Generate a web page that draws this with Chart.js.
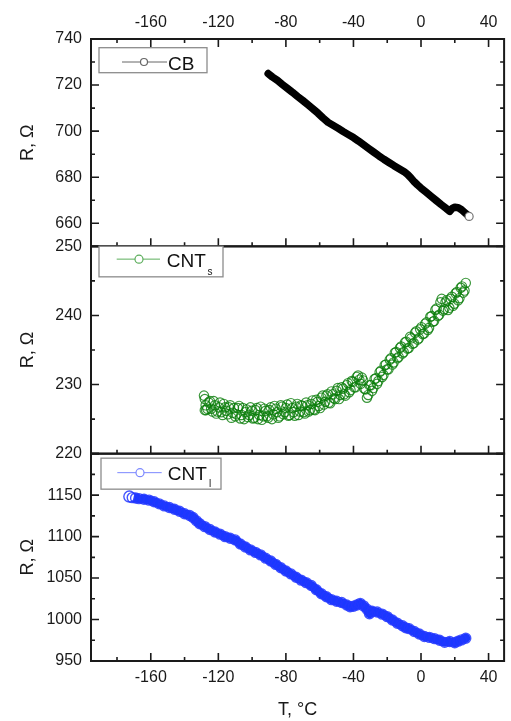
<!DOCTYPE html>
<html>
<head>
<meta charset="utf-8">
<script src="https://cdn.jsdelivr.net/npm/chart.js@4.4.0/dist/chart.umd.min.js"></script>
<style>
  html, body { margin: 0; padding: 0; background: #fff; }
  #chart { display: block; }
</style>
</head>
<body>
<canvas id="chart" width="511" height="721"></canvas>
<script>
// temperature axis (°C)
const tTicks = [-160, -120, -80, -40, 0, 40];
const tMin = -195.4, tMax = 49.2;

// CB
const cbT = [-90.5, -88, -85, -82, -79, -76, -73, -70, -67, -64, -61, -58, -55, -52, -49, -46, -43, -40, -37, -34,
  -31, -28, -25, -22, -19, -16, -13, -10, -8, -6, -4, -2, 0, 3, 6, 9, 12, 15, 17, 18.5, 20, 22, 24, 26, 28.5];
const cbR = [725.0, 723.5, 722.0, 720.2, 718.5, 716.8, 715.0, 713.3, 711.5, 709.7, 707.8, 705.7, 703.8, 702.5, 701.2,
  699.8, 698.5, 697.2, 695.7, 694.1, 692.5, 690.9, 689.3, 687.8, 686.4, 685.0, 683.7, 682.4, 681.2, 679.7, 678.0,
  676.6, 675.3, 673.5, 671.7, 669.9, 668.1, 666.4, 665.2, 666.5, 667.0, 666.8, 665.9, 664.6, 663.0];
const cbTicks = [660, 680, 700, 720, 740];

// CNTs (scatter, two interleaved sweeps)
const cntsT = [-128.5, -128, -127.5, -128, -126.5, -125, -123.5, -122, -120.5, -119, -117.5, -116, -114.5, -113, -111.5,
  -110, -108.5, -107, -105.5, -104, -102.5, -101, -99.5, -98, -96.5, -95, -93.5, -92, -90.5, -89, -87.5, -86, -84.5,
  -83, -81.5, -80, -78.5, -77, -75.5, -74, -72.5, -71, -69.5, -68, -66.5, -65, -63.5, -62, -60.5, -59, -57.5, -56,
  -54.5, -53, -51.5, -50, -48.5, -47, -45.5, -44, -42.5, -41, -39.5, -38, -36.5, -35, -33.5, -32, -30.5, -29, -27.5,
  -26, -24.5, -23, -21.5, -20, -18.5, -17, -15.5, -14, -12.5, -11, -9.5, -8, -6.5, -5, -3.5, -2, -0.5, 1, 2.5, 4,
  5.5, 7, 8.5, 10, 11.5, 13, 14.5, 16, 17.5, 19, 20.5, 22, 23.5, 25, 26.5,
  -127.25, -125.75, -124.25, -122.75, -121.25, -119.75, -118.25, -116.75, -115.25, -113.75, -112.25, -110.75, -109.25,
  -107.75, -106.25, -104.75, -103.25, -101.75, -100.25, -98.75, -97.25, -95.75, -94.25, -92.75, -91.25, -89.75,
  -88.25, -86.75, -85.25, -83.75, -82.25, -80.75, -79.25, -77.75, -76.25, -74.75, -73.25, -71.75, -70.25, -68.75,
  -67.25, -65.75, -64.25, -62.75, -61.25, -59.75, -58.25, -56.75, -55.25, -53.75, -52.25, -50.75, -49.25, -47.75,
  -46.25, -44.75, -43.25, -41.75, -40.25, -38.75, -37.25, -35.75, -34.25, -32.75, -31.25, -29.75, -28.25, -26.75,
  -25.25, -23.75, -22.25, -20.75, -19.25, -17.75, -16.25, -14.75, -13.25, -11.75, -10.25, -8.75, -7.25, -5.75, -4.25,
  -2.75, -1.25, 0.25, 1.75, 3.25, 4.75, 6.25, 7.75, 9.25, 10.75, 12.25, 13.75, 15.25, 16.75, 18.25, 19.75, 21.25,
  22.75, 24.25, 25.75];
const cntsR = [228.4, 226.3, 227.0, 227.9, 226.5, 227.6, 226.1, 227.0, 226.1, 227.4, 225.6, 226.7, 225.7, 227.0, 225.9,
  225.4, 226.6, 225.1, 226.6, 226.0, 225.3, 226.7, 225.1, 226.3, 225.0, 226.8, 225.4, 226.2, 225.2, 226.7, 225.7,
  226.5, 225.2, 227.0, 225.7, 226.6, 225.5, 227.3, 226.0, 226.8, 225.6, 227.0, 226.0, 227.4, 226.1, 227.2, 226.4,
  227.8, 226.9, 228.1, 227.1, 228.4, 227.4, 229.0, 228.0, 229.1, 227.9, 229.6, 228.6, 229.9, 228.9, 230.5, 229.6,
  231.1, 230.7, 231.0, 229.4, 228.1, 229.9, 229.1, 230.8, 230.1, 231.8, 231.1, 232.8, 232.2, 233.6, 232.9, 234.6,
  233.8, 235.3, 234.5, 236.1, 235.2, 236.9, 235.9, 237.5, 236.5, 238.0, 237.3, 238.8, 237.9, 239.8, 239.1, 240.8,
  239.9, 241.9, 240.7, 241.9, 240.8, 242.4, 241.4, 243.2, 242.2, 244.0, 243.3, 244.7,
  226.3, 227.4, 226.5, 227.6, 225.8, 226.7, 226.0, 227.2, 226.2, 226.7, 225.2, 226.6, 225.7, 226.9, 225.6, 225.0,
  226.4, 225.6, 226.2, 225.2, 226.6, 225.6, 224.9, 226.5, 225.4, 226.3, 225.0, 226.9, 226.0, 225.4, 226.8, 226.0,
  227.1, 225.6, 226.6, 225.5, 227.2, 226.1, 226.9, 225.8, 227.0, 226.3, 227.7, 226.3, 227.5, 226.6, 228.4, 227.5,
  228.6, 227.3, 228.6, 227.9, 229.5, 228.5, 229.4, 228.4, 230.2, 229.2, 230.4, 229.6, 231.3, 230.1, 230.6, 229.3,
  228.5, 229.9, 229.5, 230.9, 230.5, 232.0, 231.4, 232.9, 232.2, 233.8, 233.2, 234.7, 234.0, 235.5, 234.7, 236.2,
  235.3, 236.7, 236.0, 237.7, 236.7, 238.3, 237.4, 239.0, 238.2, 239.9, 239.2, 241.0, 240.1, 242.4, 240.9, 242.2,
  241.1, 242.7, 241.7, 243.4, 242.5, 244.2, 243.6];
const cntsTicks = [220, 230, 240, 250];

// CNTl
const cntlT = [-172.7, -171, -169, -167, -164, -161, -158, -155, -152, -149, -146, -143, -140, -137, -135, -133, -131,
  -128, -125, -122, -119, -116, -113, -110, -107, -104, -101, -98, -95, -92, -89, -86, -83, -80, -77, -74, -71, -68,
  -65, -62, -59, -56, -53, -50, -47, -44, -42, -40, -38, -36, -34, -32, -30.5, -29, -26, -23, -20, -17, -14, -11, -9,
  -7, -4, -1, 2, 5, 8, 11, 14, 17, 20, 22, 24, 26.5];
const cntlR = [1148.3, 1147.0, 1146.6, 1145.8, 1145.0, 1144.0, 1142.0, 1139.5, 1137.0, 1135.0, 1133.0, 1130.5, 1127.5,
  1125.5, 1123.0, 1119.0, 1115.5, 1112.0, 1108.5, 1105.5, 1103.0, 1100.0, 1098.0, 1096.0, 1091.0, 1087.5, 1084.0,
  1081.0, 1078.0, 1074.0, 1070.5, 1066.5, 1062.5, 1058.5, 1055.0, 1051.0, 1047.5, 1044.5, 1041.0, 1036.0, 1031.0,
  1027.5, 1024.0, 1022.0, 1020.5, 1017.5, 1015.5, 1016.0, 1017.5, 1019.5, 1016.5, 1012.5, 1007.0, 1010.0, 1009.0,
  1006.5, 1003.5, 999.5, 995.5, 992.5, 990.0, 989.0, 985.5, 982.5, 979.5, 978.5, 977.0, 975.0, 972.5, 973.5, 972.0,
  974.0, 975.5, 977.5];
const cntlTicks = [950, 1000, 1050, 1100, 1150];

const family = '"Liberation Sans", Arial, Helvetica, sans-serif';
const ink = '#1a1a1a';

function pts(xs, ys) {
  return xs.map((x, i) => ({ x: x, y: ys[i] }));
}

// panels from top to bottom, with their legend layout
const panels = [
  { axis: 'yTop', min: 650, max: 740, ticks: cbTicks, minor: 10,
    legend: { dx: 8, dy: 8.7, w: 108, h: 25, ly: 23, l1: 31, l2: 76, cx: 53, r: 3.5, color: '#666',
      text: 'CB', tx: 77, ty: 30.5, sub: null } },
  { axis: 'yMid', min: 220, max: 250, ticks: cntsTicks, minor: 5,
    legend: { dx: 8, dy: 0, w: 124, h: 30.5, ly: 12.8, l1: 25.7, l2: 69, cx: 48, r: 4, color: '#5cae5c',
      text: 'CNT', tx: 75.7, ty: 20.5, sub: 's', sx: 116.5, sy: 28.5 } },
  { axis: 'yBot', min: 950, max: 1200, ticks: cntlTicks, minor: 25,
    legend: { dx: 10, dy: 4.5, w: 120, h: 31, ly: 19, l1: 26.3, l2: 70.7, cx: 49, r: 4, color: '#7c88ff',
      text: 'CNT', tx: 76.7, ty: 26.5, sub: 'l', sx: 118, sy: 33.5 } }
];

const frames = {
  id: 'frames',
  afterDraw(chart) {
    const { ctx, chartArea: a, scales } = chart;
    const sx = scales.x;
    const tMinor = [];
    for (let i = 0; i < tTicks.length; i++) tMinor.push(tTicks[i] - 20);
    tMinor.push(tTicks[tTicks.length - 1] + 20);
    ctx.save();
    ctx.strokeStyle = ink;
    panels.forEach((p, k) => {
      const s = scales[p.axis];
      ctx.lineWidth = 1.6;
      ctx.beginPath();
      // y ticks, inward on both sides
      const yMajor = p.ticks.slice();
      yMajor.unshift(p.ticks[0] - (p.ticks[1] - p.ticks[0]));
      yMajor.push(p.ticks[p.ticks.length - 1] + (p.ticks[1] - p.ticks[0]));
      yMajor.forEach(v => {
        if (v < p.min || v > p.max) return;
        const y = s.getPixelForValue(v);
        ctx.moveTo(a.left, y); ctx.lineTo(a.left + 8, y);
        ctx.moveTo(a.right, y); ctx.lineTo(a.right - 8, y);
        const m = v + p.minor;
        if (m < p.max) {
          const ym = s.getPixelForValue(m);
          ctx.moveTo(a.left, ym); ctx.lineTo(a.left + 4, ym);
          ctx.moveTo(a.right, ym); ctx.lineTo(a.right - 4, ym);
        }
      });
      // x ticks at the bottom of each panel, and at the very top
      const edges = [[s.bottom, -1]];
      if (k === 0) edges.push([s.top, 1]);
      edges.forEach(([y0, dir]) => {
        tTicks.forEach(v => {
          const x = sx.getPixelForValue(v);
          ctx.moveTo(x, y0); ctx.lineTo(x, y0 + dir * 8);
        });
        tMinor.forEach(v => {
          if (v <= tMin || v >= tMax) return;
          const x = sx.getPixelForValue(v);
          ctx.moveTo(x, y0); ctx.lineTo(x, y0 + dir * 4);
        });
      });
      ctx.stroke();
      ctx.lineWidth = 2;
      ctx.strokeRect(a.left, s.top, a.right - a.left, s.bottom - s.top);

      // legend box
      const L = p.legend;
      const bx = a.left + L.dx, by = s.top + L.dy;
      ctx.fillStyle = '#fff';
      ctx.fillRect(bx, by, L.w, L.h);
      ctx.lineWidth = 1.3;
      ctx.strokeStyle = '#8c8c8c';
      ctx.strokeRect(bx, by, L.w, L.h);
      ctx.strokeStyle = L.color;
      ctx.lineWidth = 1;
      ctx.beginPath();
      ctx.moveTo(a.left + L.l1, s.top + L.ly);
      ctx.lineTo(a.left + L.l2, s.top + L.ly);
      ctx.stroke();
      ctx.beginPath();
      ctx.arc(a.left + L.cx, s.top + L.ly, L.r, 0, Math.PI * 2);
      ctx.fill();
      ctx.lineWidth = 1.2;
      ctx.stroke();
      ctx.fillStyle = '#111';
      ctx.textBaseline = 'alphabetic';
      ctx.textAlign = 'left';
      ctx.font = '19px ' + family;
      ctx.fillText(L.text, a.left + L.tx, s.top + L.ty);
      if (L.sub) {
        ctx.font = '10px ' + family;
        ctx.fillText(L.sub, a.left + L.sx, s.top + L.sy);
      }
      ctx.strokeStyle = ink;
    });
    ctx.restore();
  }
};

function tAxis(pos, h) {
  return {
    type: 'linear', position: pos, min: tMin, max: tMax,
    afterBuildTicks: s => { s.ticks = tTicks.map(v => ({ value: v })); },
    afterFit: s => { s.height = h; },
    grid: { display: false, drawTicks: false },
    border: { display: false },
    ticks: { color: ink, font: { size: 16, family: family }, padding: 7, maxRotation: 0, autoSkip: false,
      callback: v => String(v) }
  };
}

function rAxis(p) {
  return {
    type: 'linear', position: 'left', stack: 'r', stackWeight: 1, min: p.min, max: p.max,
    afterBuildTicks: s => { s.ticks = p.ticks.map(v => ({ value: v })); },
    afterFit: s => { s.width = 91; },
    grid: { display: false, drawTicks: false },
    border: { display: false },
    ticks: { color: ink, font: { size: 16, family: family }, padding: 9, autoSkip: false,
      callback: v => String(v) },
    title: { display: true, text: 'R, Ω', color: ink, font: { size: 18, family: family }, padding: { top: 17, bottom: 0 } }
  };
}

const xBottom = tAxis('bottom', 60);
xBottom.title = { display: true, text: 'T, °C', color: ink, font: { size: 18, family: family }, padding: { top: 0, bottom: 0 } };

const ctx = document.getElementById('chart').getContext('2d');
new Chart(ctx, {
  type: 'line',
  data: {
    datasets: [
      {
        label: 'CB', data: pts(cbT, cbR), xAxisID: 'x', yAxisID: 'yTop',
        borderColor: '#000', borderWidth: 7.5, borderCapStyle: 'round', borderJoinStyle: 'round',
        pointRadius: c => c.dataIndex === cbT.length - 1 ? 4 : 0,
        pointBackgroundColor: '#fff', pointBorderColor: '#777', pointBorderWidth: 1.2
      },
      {
        label: 'CNTs', data: pts(cntsT, cntsR), xAxisID: 'x', yAxisID: 'yMid',
        showLine: false,
        pointRadius: 4.7, pointBorderWidth: 1.15, pointBorderColor: 'rgba(10,125,10,0.8)',
        pointBackgroundColor: 'rgba(0,0,0,0)'
      },
      {
        label: 'CNTl', data: pts(cntlT, cntlR), xAxisID: 'x', yAxisID: 'yBot',
        borderColor: '#1a38ff', borderWidth: 9, borderCapStyle: 'round', borderJoinStyle: 'round',
        pointRadius: c => c.dataIndex === 0 ? 5.5 : 5, pointBorderWidth: 1.4,
        pointBorderColor: 'rgba(35,55,255,0.85)',
        pointBackgroundColor: c => c.dataIndex === 0 ? '#fff' : 'rgba(0,0,0,0)'
      }
    ]
  },
  options: {
    responsive: false,
    animation: false,
    devicePixelRatio: 1,
    layout: { padding: { left: 0, right: 1, top: 0, bottom: 0 } },
    plugins: { legend: { display: false }, tooltip: { enabled: false } },
    scales: {
      x: xBottom,
      x2: tAxis('top', 39),
      yBot: rAxis(panels[2]),
      yMid: rAxis(panels[1]),
      yTop: rAxis(panels[0])
    }
  },
  plugins: [frames]
});
</script>
</body>
</html>
